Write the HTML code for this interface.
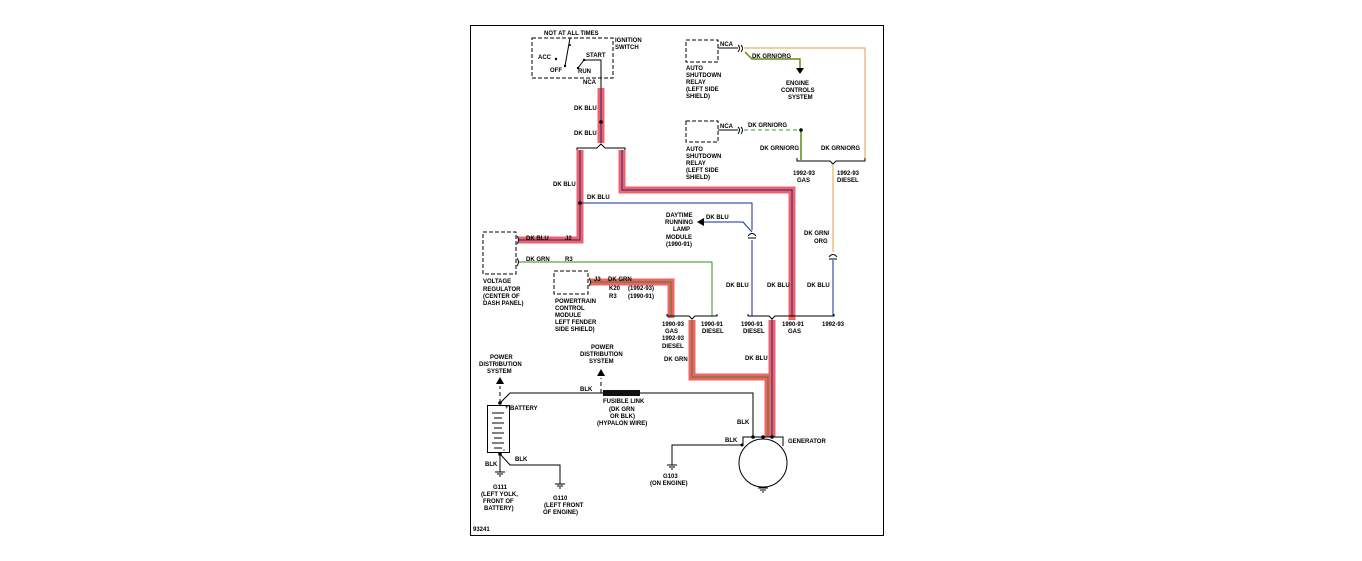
<!DOCTYPE html>
<html><head><meta charset="utf-8"><style>
html,body{margin:0;padding:0;background:#fff;}
svg{display:block;}
text{font-family:"Liberation Sans",sans-serif;font-size:6px;font-weight:bold;fill:#000;}
</style></head><body>
<svg width="1362" height="561" viewBox="0 0 1362 561" xmlns="http://www.w3.org/2000/svg">
<rect x="0" y="0" width="1362" height="561" fill="#fff"/>
<rect x="470.5" y="25.5" width="413" height="510" fill="none" stroke="#000" stroke-width="1"/>

<g fill="none" stroke="#f06266" stroke-width="7" stroke-linejoin="miter">
<path d="M601 88 V143"/>
<path d="M580 150 V240 H518"/>
<path d="M622 150 V190 H792 V320"/>
<path d="M590 282 H671 V318"/>
<path d="M692 320 V377 H768 V437"/>
<path d="M772 320 V437"/>
</g>
<g fill="none" stroke="#1a2a9a" stroke-width="1">
<path d="M601 88 V143"/>
<path d="M580 150 V240 H518"/>
<path d="M622 150 V190 H792 V316"/>
<path d="M772 318 V437"/>
<path d="M580 203 H752 V230"/>
<path d="M752 240 V316"/>
<path d="M752 232 L743 222 H704"/>
<path d="M833 260 V316"/>
</g>
<g fill="none" stroke="#3a8a20" stroke-width="1">
<path d="M590 282 H671 V316"/>
<path d="M692 320 V377 H768 V437"/>
<path d="M518 262 H712 V316"/>
</g>
<path d="M801 130 V160" stroke="#5a8a10" stroke-width="1.5"/>
<path d="M744 130 H801" stroke="#3a9a30" stroke-width="1" stroke-dasharray="4,3"/>
<path d="M745 52 L752 59 H800 V68" stroke="#6a8a10" stroke-width="1.5" fill="none"/>
<polygon points="796,68 804,68 800,74" fill="#000"/>
<g fill="none" stroke="#e0a040" stroke-width="1">
<path d="M744 48 H865 V160"/>
<path d="M833 165 V252"/>
</g>

<g fill="none" stroke="#000" stroke-width="1">
<path d="M577 150 V148 H597 L601 144 L605 148 H625 V150"/>
<path d="M667 314 V316 H689 L692 319 L695 316 H717 V314"/>
<path d="M748 314 V316 H769 L772 319 L775 316 H834 V314"/>
<path d="M797 158 V161 H830 L833 164 L836 161 H865 V158"/>
</g>

<g fill="none" stroke="#000" stroke-width="1">
<path d="M517 236 q3 4 0 8"/>
<path d="M517 258 q3 4 0 8"/>
<path d="M589 278 q3 4 0 8"/>
<path d="M738 45 q3 3 0 7 M741 45 q3 3 0 7"/>
<path d="M738 127 q3 3 0 7 M741 127 q3 3 0 7"/>
<path d="M748 236 q4 -5 8 0 M748 238 h8"/>
<path d="M829 257 q4 -5 8 0 M829 259 h8"/>
</g>
<polygon points="697,222 704,218 704,226" fill="#000"/>

<g fill="#000">
<circle cx="601" cy="122" r="1.8"/>
<circle cx="580" cy="203" r="1.8"/>
<circle cx="801" cy="130" r="1.8"/>
<circle cx="500" cy="403" r="1.8"/>
<circle cx="500" cy="454" r="1.8"/>
<circle cx="753" cy="437" r="1.8"/>
<circle cx="763" cy="437" r="1.8"/>
<circle cx="772" cy="437" r="1.8"/>
<circle cx="742" cy="445" r="1.5"/>
</g>

<g fill="none" stroke="#000" stroke-width="1" stroke-dasharray="4,2">
<rect x="532" y="38" width="81" height="40"/>
<rect x="686" y="40" width="32" height="22"/>
<rect x="686" y="121" width="32" height="21"/>
<rect x="483" y="232" width="33" height="42"/>
<rect x="554" y="271" width="34" height="23"/>
</g>
<g stroke="#000" stroke-width="1" fill="none">
<path d="M570 38 L565 66"/>
<path d="M578 68 L584 60 H601 V88"/>
<path d="M718 48 H738 M718 130 H738"/>
</g>
<g fill="#000"><circle cx="556" cy="59" r="1.2"/><circle cx="565" cy="66" r="1.2"/><circle cx="584" cy="60" r="1.2"/><circle cx="578" cy="68" r="1.2"/><circle cx="570" cy="45" r="1"/></g>

<rect x="487.5" y="405.5" width="22" height="47" fill="#fff" stroke="#000"/>
<g stroke="#000" stroke-width="1">
<path d="M492 413 h12 M494 418 h8 M492 423 h12 M494 428 h8 M492 433 h12 M494 438 h8 M492 443 h12 M494 448 h8"/>
<path d="M500 403 V386" stroke-dasharray="4,3"/>
<path d="M500 403 L510 393 H603" fill="none"/>
<path d="M640 393 H753 V437" fill="none"/>
<path d="M500 454 V472"/>
<path d="M500 454 L510 465 H560 V484" fill="none"/>
<path d="M601 393 V378" stroke-dasharray="4,3"/>
</g>
<polygon points="496,384 504,384 500,377" fill="#000"/>
<polygon points="597,376 605,376 601,369" fill="#000"/>
<rect x="603" y="390" width="37" height="6" fill="#111"/>
<g stroke="#000" stroke-width="1">
<path d="M495 472 h10 M497 474 h6 M499 476 h2"/>
<path d="M555 484 h10 M557 486 h6 M559 488 h2"/>
<path d="M667 465 h10 M669 467 h6 M671 469 h2"/>
<path d="M758 488 h10 M760 490 h6 M762 492 h2"/>
</g>
<circle cx="763" cy="463" r="24" fill="none" stroke="#000"/>
<g stroke="#000" stroke-width="1" fill="none">
<path d="M743 446 V437 H783 V446"/>
<path d="M742 445 H672 V465"/>
</g>

<text x="544" y="35">NOT AT ALL TIMES</text>
<text x="615" y="42">IGNITION</text><text x="615" y="49">SWITCH</text>
<text x="538" y="59">ACC</text><text x="550" y="72">OFF</text>
<text x="586" y="57">START</text><text x="578" y="73">RUN</text>
<text x="583" y="84">NCA</text>
<text x="574" y="110">DK BLU</text>
<text x="574" y="135">DK BLU</text>
<text x="553" y="186">DK BLU</text>
<text x="587" y="199">DK BLU</text>
<text x="526" y="240">DK BLU</text><text x="565" y="240">J2</text>
<text x="526" y="261">DK GRN</text><text x="565" y="261">R3</text>
<text x="483" y="283">VOLTAGE</text><text x="483" y="291">REGULATOR</text><text x="483" y="298">(CENTER OF</text><text x="483" y="305">DASH PANEL)</text>
<text x="594" y="281">J3</text><text x="608" y="281">DK GRN</text>
<text x="609" y="290">K20</text><text x="628" y="290">(1992-93)</text>
<text x="609" y="298">R3</text><text x="628" y="298">(1990-91)</text>
<text x="555" y="303">POWERTRAIN</text><text x="555" y="310">CONTROL</text><text x="555" y="317">MODULE</text><text x="555" y="324">LEFT FENDER</text><text x="555" y="331">SIDE SHIELD)</text>
<text x="720" y="46">NCA</text>
<text x="752" y="58">DK GRN/ORG</text>
<text x="786" y="85">ENGINE</text><text x="781" y="92">CONTROLS</text><text x="788" y="99">SYSTEM</text>
<text x="686" y="70">AUTO</text><text x="686" y="77">SHUTDOWN</text><text x="686" y="84">RELAY</text><text x="686" y="91">(LEFT SIDE</text><text x="686" y="98">SHIELD)</text>
<text x="720" y="128">NCA</text>
<text x="748" y="127">DK GRN/ORG</text>
<text x="760" y="150">DK GRN/ORG</text>
<text x="821" y="150">DK GRN/ORG</text>
<text x="686" y="151">AUTO</text><text x="686" y="158">SHUTDOWN</text><text x="686" y="165">RELAY</text><text x="686" y="172">(LEFT SIDE</text><text x="686" y="179">SHIELD)</text>
<text x="793" y="175">1992-93</text><text x="797" y="182">GAS</text>
<text x="837" y="175">1992-93</text><text x="837" y="182">DIESEL</text>
<text x="666" y="217">DAYTIME</text><text x="665" y="224">RUNNING</text><text x="673" y="231">LAMP</text><text x="666" y="239">MODULE</text><text x="666" y="246">(1990-91)</text>
<text x="706" y="219">DK BLU</text>
<text x="804" y="235">DK GRN/</text><text x="814" y="243">ORG</text>
<text x="726" y="287">DK BLU</text><text x="767" y="287">DK BLU</text><text x="807" y="287">DK BLU</text>
<text x="662" y="326">1990-93</text><text x="665" y="333">GAS</text><text x="662" y="340">1992-93</text><text x="662" y="348">DIESEL</text>
<text x="701" y="326">1990-91</text><text x="702" y="333">DIESEL</text>
<text x="741" y="326">1990-91</text><text x="743" y="333">DIESEL</text>
<text x="782" y="326">1990-91</text><text x="788" y="333">GAS</text>
<text x="822" y="326">1992-93</text>
<text x="745" y="360">DK BLU</text>
<text x="664" y="361">DK GRN</text>
<text x="490" y="359">POWER</text><text x="479" y="366">DISTRIBUTION</text><text x="487" y="373">SYSTEM</text>
<text x="591" y="349">POWER</text><text x="580" y="356">DISTRIBUTION</text><text x="589" y="363">SYSTEM</text>
<text x="580" y="391">BLK</text>
<text x="603" y="403">FUSIBLE LINK</text><text x="609" y="411">(DK GRN</text><text x="610" y="418">OR BLK)</text><text x="597" y="425">(HYPALON WIRE)</text>
<text x="510" y="410">BATTERY</text>
<text x="505" y="409">+</text><text x="503" y="452">-</text>
<text x="485" y="466">BLK</text><text x="515" y="461">BLK</text>
<text x="493" y="489">G111</text><text x="481" y="496">(LEFT YOLK,</text><text x="483" y="503">FRONT OF</text><text x="484" y="510">BATTERY)</text>
<text x="553" y="500">G110</text><text x="544" y="507">(LEFT FRONT</text><text x="543" y="514">OF ENGINE)</text>
<text x="737" y="424">BLK</text>
<text x="725" y="442">BLK</text>
<text x="788" y="443">GENERATOR</text>
<text x="663" y="478">G103</text><text x="650" y="485">(ON ENGINE)</text>
<text x="473" y="531">93241</text>
</svg>
</body></html>
